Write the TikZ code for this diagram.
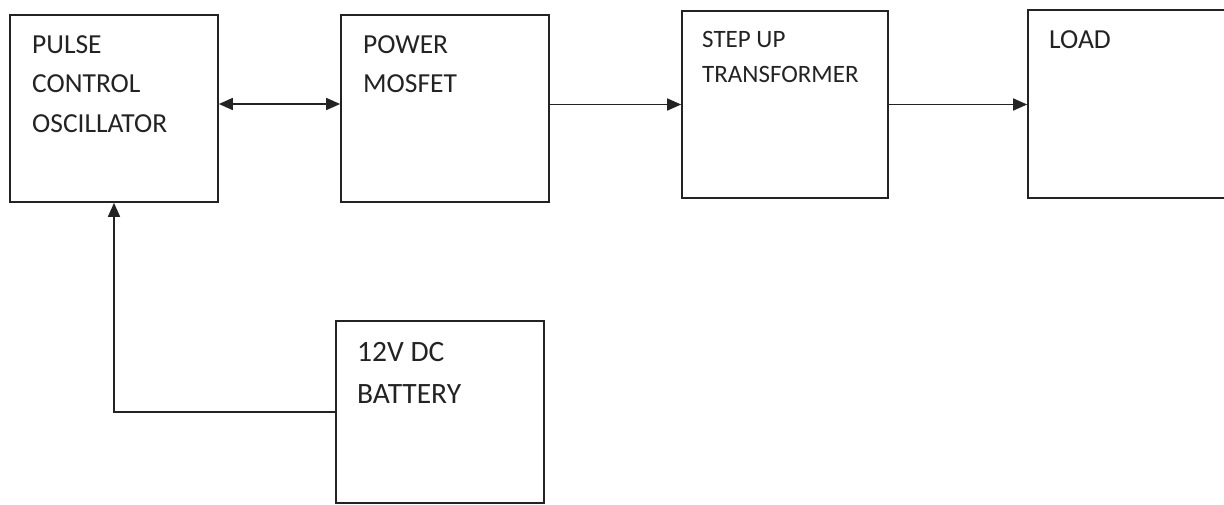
\documentclass[tikz,border=0pt]{standalone}
\usepackage{fontspec}
\setmainfont{Carlito}
\usetikzlibrary{arrows.meta}
\definecolor{ink}{RGB}{35,35,35}
\tikzset{
  blk/.style={draw=ink, line width=1.7pt, rectangle, inner sep=0pt},
  lbl/.style={anchor=base west, inner sep=0pt, text=ink},
  conn/.style={draw=ink, line width=1.7pt},
  tip/.style={-{Triangle[length=14pt,width=12pt]}},
}
\begin{document}
\begin{tikzpicture}[x=1pt,y=-1pt]
\useasboundingbox (0,0) rectangle (1224,504);
\clip (0,0) rectangle (1224,504);
% boxes
\node[blk, minimum width=208pt, minimum height=187pt] (pulse) at (114,108.5) {};
\node[blk, minimum width=208pt, minimum height=187pt] (mosfet) at (445,108.5) {};
\node[blk, minimum width=206pt, minimum height=187pt] (step) at (785,104.5) {};
\node[blk, minimum width=204pt, minimum height=188pt] (load) at (1130,104) {};
\node[blk, minimum width=208pt, minimum height=182pt] (bat) at (440,412) {};
% labels
\node[lbl, font=\fontsize{27.5}{39.5}\selectfont] (pulsetxt) at (32,53)
  {\begin{tabular}[t]{@{}l@{}}PULSE\\CONTROL\\OSCILLATOR\end{tabular}};
\node[lbl, font=\fontsize{27.5}{39.5}\selectfont] (mosfettxt) at (363,53)
  {\begin{tabular}[t]{@{}l@{}}POWER\\MOSFET\end{tabular}};
\node[lbl, font=\fontsize{25}{35}\selectfont] (steptxt) at (702,47)
  {\begin{tabular}[t]{@{}l@{}}STEP UP\\TRANSFORMER\end{tabular}};
\node[lbl, font=\fontsize{27.5}{39.5}\selectfont] (loadtxt) at (1049,48) {LOAD};
\node[lbl, font=\fontsize{29.5}{42}\selectfont] (battxt) at (357,361)
  {\begin{tabular}[t]{@{}l@{}}12V DC\\BATTERY\end{tabular}};
% connectors
\draw[conn, {Triangle[length=14pt,width=12pt]}-{Triangle[length=14pt,width=12pt]}]
  ([yshift=4.5pt]pulse.east) -- ([yshift=4.5pt]mosfet.west);
\draw[conn, tip] (mosfet.east |- step.west) -- (step.west);
\draw[conn, tip] (step.east) -- (load.west |- step.east);
\draw[conn, tip] (bat.west) -| (pulse.south);
\end{tikzpicture}
\end{document}
